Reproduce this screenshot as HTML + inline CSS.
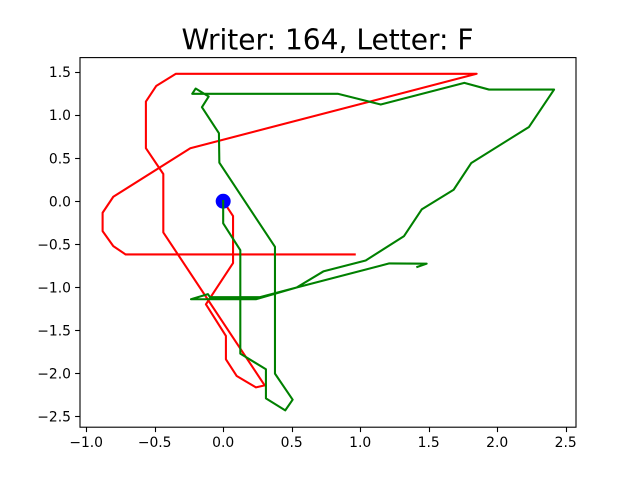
<!DOCTYPE html>
<html>
<head>
<meta charset="utf-8">
<title>Writer: 164, Letter: F</title>
<style>
html,body{margin:0;padding:0;background:#fff;width:640px;height:480px;overflow:hidden}
svg{display:block}
text{font-family:"DejaVu Sans",sans-serif;fill:#000}
</style>
</head>
<body>
<svg id="chart" width="640" height="480" viewBox="0 0 640 480" xmlns="http://www.w3.org/2000/svg">
<text x="327.5" y="49.3" font-size="28.05" text-anchor="middle">Writer: 164, Letter: F</text>
</svg>
<script>
const xTicks = [-1.0, -0.5, 0.0, 0.5, 1.0, 1.5, 2.0, 2.5];
const yTicks = [-2.5, -2.0, -1.5, -1.0, -0.5, 0.0, 0.5, 1.0, 1.5];
const redX = [0, 0.072, 0.072, -0.126, 0.02, 0.02, 0.099, 0.239, 0.303, -0.437, -0.437, -0.564, -0.564, -0.488, -0.345, 1.85, -0.24, -0.802, -0.88, -0.88, -0.802, -0.712, 0.96];
const redY = [0, -0.174, -0.72, -1.198, -1.566, -1.837, -2.031, -2.163, -2.14, -0.364, 0.314, 0.613, 1.155, 1.337, 1.477, 1.477, 0.613, 0.05, -0.136, -0.349, -0.523, -0.62, -0.62];
const greenX = [0, 0, 0.125, 0.125, 0.312, 0.312, 0.453, 0.507, 0.378, 0.378, -0.028, -0.031, -0.155, -0.106, -0.201, -0.226, 0.836, 1.15, 1.76, 1.94, 2.415, 2.232, 1.811, 1.682, 1.449, 1.32, 1.04, 0.731, 0.536, 0.239, -0.235, -0.111, -0.096, 0.269, 0.536, 1.212, 1.485, 1.417];
const greenY = [0, -0.259, -0.57, -1.771, -1.953, -2.29, -2.43, -2.306, -2.003, -0.531, 0.445, 0.787, 1.09, 1.213, 1.306, 1.245, 1.245, 1.12, 1.372, 1.294, 1.294, 0.86, 0.442, 0.131, -0.097, -0.407, -0.69, -0.817, -1.003, -1.14, -1.14, -1.081, -1.116, -1.116, -1.003, -0.724, -0.727, -0.764];
const startX = [0];
const startY = [0];

const plotLeft = 80, plotRight = 576, plotTop = 57.6, plotBottom = 427.2;
const xMin = -1.045, xMax = 2.575, yMin = -2.625, yMax = 1.665;
function sx(v) { return plotLeft + (v - xMin) / (xMax - xMin) * (plotRight - plotLeft); }
function sy(v) { return plotBottom - (v - yMin) / (yMax - yMin) * (plotBottom - plotTop); }
function fmt(v) { return (v < 0 ? '\u2212' : '') + Math.abs(v).toFixed(1); }

const svg = document.getElementById('chart');
const NS = 'http://www.w3.org/2000/svg';
function make(tag, attrs) {
  const el = document.createElementNS(NS, tag);
  for (const k in attrs) el.setAttribute(k, attrs[k]);
  svg.appendChild(el);
  return el;
}
function pts(xs, ys) { return xs.map((x, i) => sx(x).toFixed(2) + ',' + sy(ys[i]).toFixed(2)).join(' '); }

const redLine = make('polyline', {points: pts(redX, redY), fill: 'none', stroke: '#ff0000', 'stroke-width': 2.08, 'stroke-linejoin': 'round', 'stroke-linecap': 'square'});



const dot = make('circle', {cx: sx(startX[0]), cy: sy(startY[0]) + 0.2, r: 7.5, fill: '#0000ff'});



const greenLine = make('polyline', {points: pts(greenX, greenY), fill: 'none', stroke: '#008000', 'stroke-width': 2.08, 'stroke-linejoin': 'round', 'stroke-linecap': 'square'});



const frame = make('rect', {x: plotLeft, y: plotTop, width: plotRight - plotLeft, height: plotBottom - plotTop, fill: 'none', stroke: '#000', 'stroke-width': 1.1});



xTicks.forEach(function (t) {
  const px = Math.round(sx(t)) + 0.5;
  const tick = make('line', {x1: px, x2: px, y1: plotBottom, y2: plotBottom + 4.9, stroke: '#000', 'stroke-width': 1.1});
  
  
  const label = make('text', {x: sx(t), y: 447, 'font-size': 13.89, 'text-anchor': 'middle'});
  label.textContent = fmt(t);
  
  
});
yTicks.forEach(function (t) {
  const py = Math.round(sy(t)) + 0.5;
  const tick = make('line', {x1: plotLeft - 4.9, x2: plotLeft, y1: py, y2: py, stroke: '#000', 'stroke-width': 1.1});
  
  
  const label = make('text', {x: 71, y: sy(t) + 5.3, 'font-size': 13.89, 'text-anchor': 'end'});
  label.textContent = fmt(t);
  
  
});
</script>
</body>
</html>
